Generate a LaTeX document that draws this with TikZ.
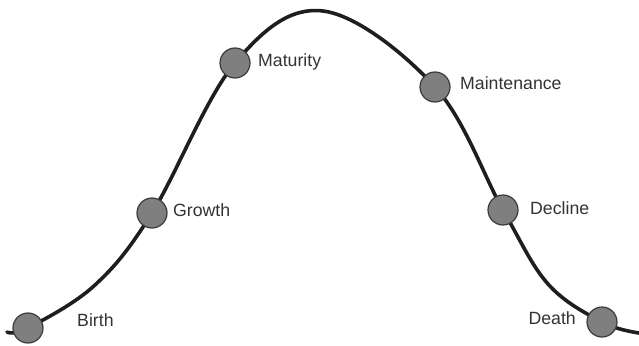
\documentclass[tikz,border=0pt]{standalone}
\usepackage{fontspec}
\setmainfont{Liberation Sans}
\usetikzlibrary{
    calc
}
\definecolor{curvegray}{HTML}{1E1E1E}
\definecolor{dotgray}{HTML}{7F7F7F}
\definecolor{rimgray}{HTML}{3A3A3A}
\definecolor{textgray}{HTML}{333333}
\tikzset {
    life curve/.style = {line width = 3.6pt, color = curvegray, line cap = round},
    stage/.style = {circle, fill = dotgray, draw = rimgray, line width = 1.2pt,
        minimum size = 30pt, inner sep = 0pt},
    stage text/.style = {inner sep = 0pt, text = textgray,
        font = \fontsize{17.7}{20}\selectfont},
}

\begin{document}
\begin{tikzpicture}[x = 1pt, y = -1pt]
        \useasboundingbox (0, 0) rectangle (639, 345);
        \coordinate (birthpos) at (28, 328);
        \coordinate (growthpos) at (152, 213);
        \coordinate (maturitypos) at (235, 63);
        \coordinate (peak) at (323, 11);
        \coordinate (maintpos) at (435, 87);
        \coordinate (declinepos) at (503, 210);
        \coordinate (deathpos) at (602, 322);
        \draw [life curve] plot [smooth, tension = 0.6] coordinates {
            (7, 332) (birthpos) (95, 285) (growthpos)
            (maturitypos) (peak) (maintpos)
            (declinepos) (548, 284) (deathpos) (639, 333)
        };
        \node [stage] (birth) at (birthpos) {};
        \node [stage] (growth) at (growthpos) {};
        \node [stage] (maturity) at (maturitypos) {};
        \node [stage] (maint) at (maintpos) {};
        \node [stage] (decline) at (declinepos) {};
        \node [stage] (death) at (deathpos) {};
        \node [stage text, anchor = west] (birthlbl) at (77, 320) {Birth};
        \node [stage text, anchor = west] (growthlbl) at (173, 210) {Growth};
        \node [stage text, anchor = west] (maturitylbl) at (258, 62) {Maturity};
        \node [stage text, anchor = west] (maintlbl) at (460, 83) {Maintenance};
        \node [stage text, anchor = west] (declinelbl) at (530, 208) {Decline};
        \node [stage text, anchor = east] (deathlbl) at (576, 318) {Death};
    \end{tikzpicture}
\end{document}
